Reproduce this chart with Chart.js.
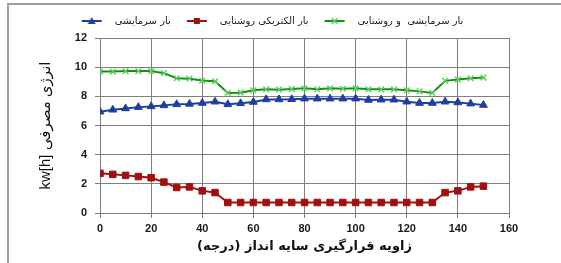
<!DOCTYPE html>
<html>
<head>
<meta charset="utf-8">
<script src="https://cdn.jsdelivr.net/npm/chart.js"></script>
<style>
  body { margin: 0; background: #fff; }
  #wrap { position: relative; width: 561px; height: 263px; overflow: hidden; }
  #frame { position: absolute; left: 7px; top: 3px; width: 600px; height: 300px;
           border-top: 2px solid #a0a0a0; border-left: 2px solid #a0a0a0; }
  canvas { position: absolute; left: 0; top: 0; }
</style>
</head>
<body>
<div id="wrap">
  <div id="frame"></div>
  <canvas id="grafico" width="561" height="263"></canvas>
</div>
<script>
// زاویه (درجه)
const zavie = [0, 5, 10, 15, 20, 25, 30, 35, 40, 45, 50, 55, 60, 65, 70, 75,
  80, 85, 90, 95, 100, 105, 110, 115, 120, 125, 130, 135, 140, 145, 150];

// بار سرمایشی
const barSarmayeshi = [6.95, 7.08, 7.17, 7.26, 7.31, 7.38, 7.45, 7.48, 7.54, 7.63, 7.45,
  7.52, 7.61, 7.79, 7.79, 7.8, 7.84, 7.84, 7.84, 7.84, 7.84, 7.75, 7.77, 7.77, 7.63,
  7.54, 7.54, 7.63, 7.58, 7.5, 7.4];

// بار الکتریکی روشنایی
const barRoshanayi = [2.72, 2.65, 2.58, 2.5, 2.42, 2.12, 1.75, 1.79, 1.52, 1.4, 0.72,
  0.72, 0.72, 0.72, 0.72, 0.72, 0.72, 0.72, 0.72, 0.72, 0.72, 0.72, 0.72, 0.72, 0.72,
  0.72, 0.72, 1.4, 1.52, 1.79, 1.84];

// بار سرمایشی و روشنایی
const barKol = [9.7, 9.7, 9.73, 9.73, 9.73, 9.59, 9.24, 9.21, 9.08, 9.03, 8.23,
  8.25, 8.41, 8.48, 8.46, 8.5, 8.55, 8.48, 8.55, 8.52, 8.55, 8.48, 8.48, 8.48, 8.41,
  8.34, 8.23, 9.06, 9.15, 9.24, 9.29];

const nameSeri = ['بار سرمایشی', 'بار الکتریکی روشنایی', 'بار سرمایشی  و روشنایی'];
const ticksY = [0, 2, 4, 6, 8, 10, 12];
const ticksX = [0, 20, 40, 60, 80, 100, 120, 140, 160];

const gridColor = '#7f7f7f';
const fontTick = { family: '"Liberation Sans", "DejaVu Sans", sans-serif', size: 11, weight: 'bold' };

function pontos(ys) {
  return zavie.map((x, i) => ({ x: x, y: ys[i] }));
}

// نمونه خط + نشانگر برای راهنما
function amostra(cor, corMarca, tipo) {
  const c = document.createElement('canvas');
  c.width = 34; c.height = 12;
  const g = c.getContext('2d');
  g.strokeStyle = cor; g.lineWidth = 2;
  g.beginPath(); g.moveTo(6, 6); g.lineTo(26, 6); g.stroke();
  g.fillStyle = cor; g.strokeStyle = corMarca;
  if (tipo === 'triangle') {
    g.beginPath(); g.moveTo(16, 2); g.lineTo(20, 9); g.lineTo(12, 9); g.closePath(); g.fill();
  } else if (tipo === 'rect') {
    g.fillRect(13, 3, 6, 6);
  } else {
    g.lineWidth = 1.5;
    g.beginPath(); g.moveTo(13, 3); g.lineTo(19, 9); g.moveTo(19, 3); g.lineTo(13, 9); g.stroke();
  }
  return c;
}

const legendHeight = {
  id: 'legendHeight',
  beforeInit(chart) {
    const fit = chart.legend.fit;
    chart.legend.fit = function () { fit.call(this); this.height = 32; };
  }
};

const series = [
  { dados: barSarmayeshi, cor: '#1f3fa0', marca: '#1f3fa0', tipo: 'triangle', raio: 4.5 },
  { dados: barRoshanayi, cor: '#a01010', marca: '#a01010', tipo: 'rect', raio: 4.6 },
  { dados: barKol, cor: '#139313', marca: '#5fd05f', tipo: 'crossRot', raio: 4 }
];

new Chart(document.getElementById('grafico'), {
  type: 'line',
  data: {
    datasets: series.map((s, i) => ({
      label: nameSeri[i],
      data: pontos(s.dados),
      borderColor: s.cor,
      backgroundColor: s.cor,
      borderWidth: 2,
      pointStyle: s.tipo,
      pointRadius: s.raio,
      pointBorderColor: s.marca,
      pointBackgroundColor: s.cor,
      pointBorderWidth: s.tipo === 'crossRot' ? 1.5 : 1,
      tension: 0,
      fill: false,
      legendImg: amostra(s.cor, s.marca, s.tipo)
    }))
  },
  options: {
    responsive: false,
    animation: false,
    devicePixelRatio: 1,
    layout: { padding: { top: 6, left: 30, right: 52, bottom: 0 } },
    plugins: {
      tooltip: { enabled: false },
      legend: {
        position: 'top',
        labels: {
          usePointStyle: true,
          pointStyleWidth: 34,
          padding: 10,
          color: '#222',
          font: { family: '"DejaVu Sans", sans-serif', size: 10 },
          generateLabels(chart) {
            return chart.data.datasets.map((d, i) => ({
              text: d.label,
              pointStyle: d.legendImg,
              fontColor: '#222',
              datasetIndex: i,
              hidden: false,
              lineWidth: 0
            }));
          }
        }
      }
    },
    scales: {
      x: {
        type: 'linear',
        min: 0, max: 160,
        afterFit(scale) { scale.height = 50; },
        afterBuildTicks(scale) { scale.ticks = ticksX.map(v => ({ value: v })); },
        grid: { color: gridColor, lineWidth: 1, tickLength: 5, tickColor: gridColor },
        border: { color: gridColor, width: 1 },
        ticks: { color: '#1a1a1a', font: fontTick, padding: 4 },
        title: {
          display: true,
          text: 'زاویه قرارگیری سایه انداز (درجه)',
          color: '#111',
          font: { family: '"DejaVu Sans", sans-serif', size: 13, weight: 'bold' },
          padding: { top: 0, bottom: 9 }
        }
      },
      y: {
        min: 0, max: 12,
        afterFit(scale) { scale.width = 70; },
        afterBuildTicks(scale) { scale.ticks = ticksY.map(v => ({ value: v })); },
        grid: { color: gridColor, lineWidth: 1, tickLength: 5, tickColor: gridColor },
        border: { color: gridColor, width: 1 },
        ticks: { color: '#1a1a1a', font: fontTick, padding: 8 },
        title: {
          display: true,
          text: 'kw[h] انرژی مصرفی',
          color: '#111',
          font: { family: '"Liberation Sans", "DejaVu Sans", sans-serif', size: 15 },
          padding: { top: 7, bottom: 0 }
        }
      }
    }
  },
  plugins: [legendHeight]
});
</script>
</body>
</html>
